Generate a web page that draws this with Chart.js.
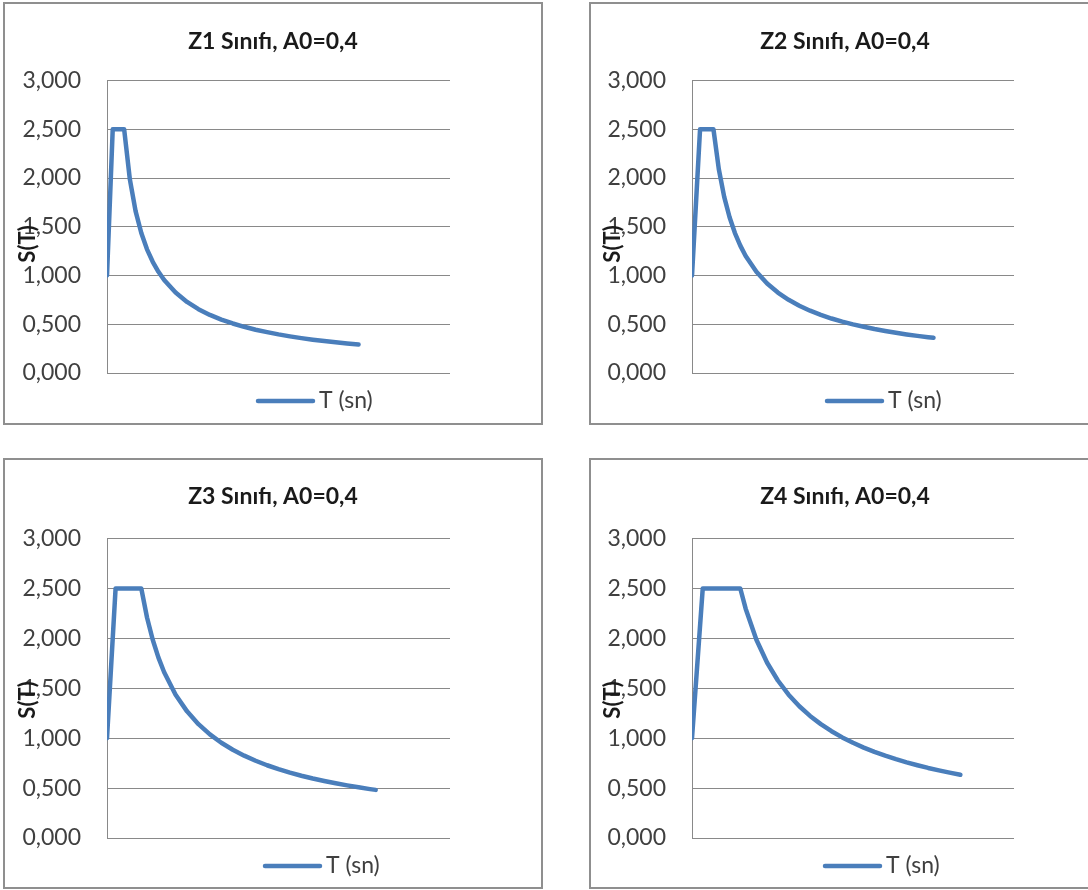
<!DOCTYPE html>
<html>
<head>
<meta charset="utf-8">
<script src="https://cdn.jsdelivr.net/npm/chart.js@4.4.1/dist/chart.umd.min.js"></script>
<style>
  html, body { margin: 0; padding: 0; background: #fff; width: 1088px; height: 890px; overflow: hidden; }
  .panel { position: absolute; box-sizing: border-box; border: 2px solid #8f8f8f; background: #fff; }
  .panel canvas { display: block; }
</style>
</head>
<body>
<div class="panel" id="p1" style="left:3px;top:2px;width:540px;height:423px"><canvas id="c1"></canvas></div>
<div class="panel" id="p2" style="left:589px;top:2px;width:512px;height:423px"><canvas id="c2"></canvas></div>
<div class="panel" id="p3" style="left:3px;top:458px;width:540px;height:431px"><canvas id="c3"></canvas></div>
<div class="panel" id="p4" style="left:589px;top:458px;width:512px;height:431px"><canvas id="c4"></canvas></div>
<script>
// Spektrum katsayısı S(T) - T (sn), zemin sınıflarına göre
const titles = ['Z1 Sınıfı, A0=0,4', 'Z2 Sınıfı, A0=0,4', 'Z3 Sınıfı, A0=0,4', 'Z4 Sınıfı, A0=0,4'];
const seriesName = 'T (sn)';
const axisName = 'S(T)';
const yTickLabels = ['0,000', '0,500', '1,000', '1,500', '2,000', '2,500', '3,000'];

const periodsZ1 = [0, 0.1, 0.3, 0.4, 0.5, 0.6, 0.7, 0.8, 0.9, 1.0, 1.2, 1.4, 1.6, 1.8, 2.0, 2.2, 2.4, 2.6, 2.8, 3.0, 3.2, 3.4, 3.6, 3.8, 4.0, 4.2, 4.4];
const spectrumZ1 = [1.0, 2.5, 2.5, 1.986, 1.661, 1.436, 1.269, 1.141, 1.038, 0.954, 0.825, 0.729, 0.655, 0.596, 0.548, 0.508, 0.474, 0.444, 0.419, 0.396, 0.376, 0.358, 0.342, 0.328, 0.315, 0.303, 0.292];

const periodsZ2 = [0, 0.15, 0.4, 0.5, 0.6, 0.7, 0.8, 0.9, 1.0, 1.2, 1.4, 1.6, 1.8, 2.0, 2.2, 2.4, 2.6, 2.8, 3.0, 3.2, 3.4, 3.6, 3.8, 4.0, 4.2, 4.4, 4.5];
const spectrumZ2 = [1.0, 2.5, 2.5, 2.091, 1.807, 1.598, 1.436, 1.307, 1.201, 1.038, 0.918, 0.825, 0.751, 0.690, 0.639, 0.596, 0.559, 0.527, 0.499, 0.474, 0.451, 0.431, 0.413, 0.396, 0.381, 0.367, 0.361];

const periodsZ3 = [0, 0.15, 0.6, 0.7, 0.8, 0.9, 1.0, 1.2, 1.4, 1.6, 1.8, 2.0, 2.2, 2.4, 2.6, 2.8, 3.0, 3.2, 3.4, 3.6, 3.8, 4.0, 4.2, 4.4, 4.6, 4.7];
const spectrumZ3 = [1.0, 2.5, 2.5, 2.210, 1.986, 1.807, 1.661, 1.436, 1.269, 1.141, 1.038, 0.954, 0.884, 0.825, 0.774, 0.729, 0.690, 0.655, 0.624, 0.596, 0.571, 0.548, 0.527, 0.508, 0.490, 0.482];

const periodsZ4 = [0, 0.2, 0.9, 1.0, 1.2, 1.4, 1.6, 1.8, 2.0, 2.2, 2.4, 2.6, 2.8, 3.0, 3.2, 3.4, 3.6, 3.8, 4.0, 4.2, 4.4, 4.6, 4.8, 5.0];
const spectrumZ4 = [1.0, 2.5, 2.5, 2.298, 1.986, 1.756, 1.578, 1.436, 1.320, 1.223, 1.141, 1.070, 1.008, 0.954, 0.906, 0.863, 0.825, 0.790, 0.758, 0.729, 0.702, 0.678, 0.655, 0.634];

const lineColor = '#4a7ebb';
const gridColor = '#898989';

Chart.defaults.font.family = 'Lato, "Open Sans", sans-serif';

// panel geometry (canvas px)
const panels = [
  { id: 'c1', w: 536, h: 419, axisW: 102, padR: 91, padB: 50, titleTop: 24, titleBottom: 25, labelX: 23, labelY: 240, legendX: 253, periods: periodsZ1, values: spectrumZ1 },
  { id: 'c2', w: 508, h: 419, axisW: 101, padR: 85, padB: 50, titleTop: 24, titleBottom: 25, labelX: 22, labelY: 240, legendX: 236, periods: periodsZ2, values: spectrumZ2 },
  { id: 'c3', w: 536, h: 427, axisW: 102, padR: 91, padB: 49, titleTop: 23, titleBottom: 28, labelX: 23, labelY: 240, legendX: 260, periods: periodsZ3, values: spectrumZ3 },
  { id: 'c4', w: 508, h: 427, axisW: 101, padR: 85, padB: 49, titleTop: 23, titleBottom: 28, labelX: 22, labelY: 240, legendX: 234, periods: periodsZ4, values: spectrumZ4 }
];

// Excel tarzı eksen başlığı ve lejant
const excelExtras = {
  id: 'excelExtras',
  afterDraw(chart, args, opts) {
    const ctx = chart.ctx;
    const area = chart.chartArea;
    ctx.save();
    // eksen başlığı
    ctx.translate(opts.labelX, opts.labelY);
    ctx.rotate(-Math.PI / 2);
    ctx.font = 'bold 22px Lato, sans-serif';
    ctx.fillStyle = '#1a1a1a';
    ctx.textAlign = 'center';
    ctx.textBaseline = 'middle';
    ctx.fillText(axisName, 0, 0);
    ctx.restore();

    // lejant
    const ly = area.bottom + 28;
    ctx.save();
    ctx.strokeStyle = lineColor;
    ctx.lineWidth = 4.5;
    ctx.lineCap = 'round';
    ctx.beginPath();
    ctx.moveTo(opts.legendX, ly);
    ctx.lineTo(opts.legendX + 55, ly);
    ctx.stroke();
    ctx.font = '23px Lato, sans-serif';
    ctx.fillStyle = '#404040';
    ctx.textAlign = 'left';
    ctx.textBaseline = 'middle';
    ctx.fillText(seriesName, opts.legendX + 61, ly);
    ctx.restore();
  }
};

panels.forEach((p, i) => {
  const canvas = document.getElementById(p.id);
  canvas.style.width = p.w + 'px';
  canvas.style.height = p.h + 'px';
  canvas.width = p.w;
  canvas.height = p.h;

  new Chart(canvas.getContext('2d'), {
    type: 'line',
    data: {
      datasets: [{
        label: seriesName,
        data: p.periods.map((t, k) => ({ x: t, y: p.values[k] })),
        borderColor: lineColor,
        backgroundColor: lineColor,
        borderWidth: 4.5,
        borderCapStyle: 'round',
        borderJoinStyle: 'round',
        pointRadius: 0,
        tension: 0,
        fill: false
      }]
    },
    options: {
      responsive: false,
      animation: false,
      layout: { padding: { left: 0, right: 0, top: 0, bottom: p.padB } },
      scales: {
        x: { type: 'linear', min: 0, max: 6, display: false },
        y: {
          min: 0,
          max: 3,
          ticks: {
            stepSize: 0.5,
            padding: 26,
            color: '#404040',
            font: { size: 23 },
            callback: (v, idx) => yTickLabels[idx]
          },
          grid: { color: gridColor, lineWidth: 1, drawTicks: false },
          border: { display: true, color: gridColor, width: 1 },
          afterFit: scale => { scale.width = p.axisW; }
        },
        // boş sağ boşluk (Excel'deki gibi çizim alanı sağda daha dar)
        yRight: {
          position: 'right',
          ticks: { display: false },
          grid: { display: false, drawTicks: false },
          border: { display: false },
          afterFit: scale => { scale.width = p.padR; }
        }
      },
      plugins: {
        title: {
          display: true,
          text: titles[i],
          color: '#1a1a1a',
          font: { size: 23, weight: 'bold', lineHeight: 1.2 },
          padding: { top: p.titleTop, bottom: p.titleBottom }
        },
        legend: { display: false },
        tooltip: { enabled: false },
        excelExtras: { labelX: p.labelX, labelY: p.labelY, legendX: p.legendX }
      }
    },
    plugins: [excelExtras]
  });
});
</script>
</body>
</html>
